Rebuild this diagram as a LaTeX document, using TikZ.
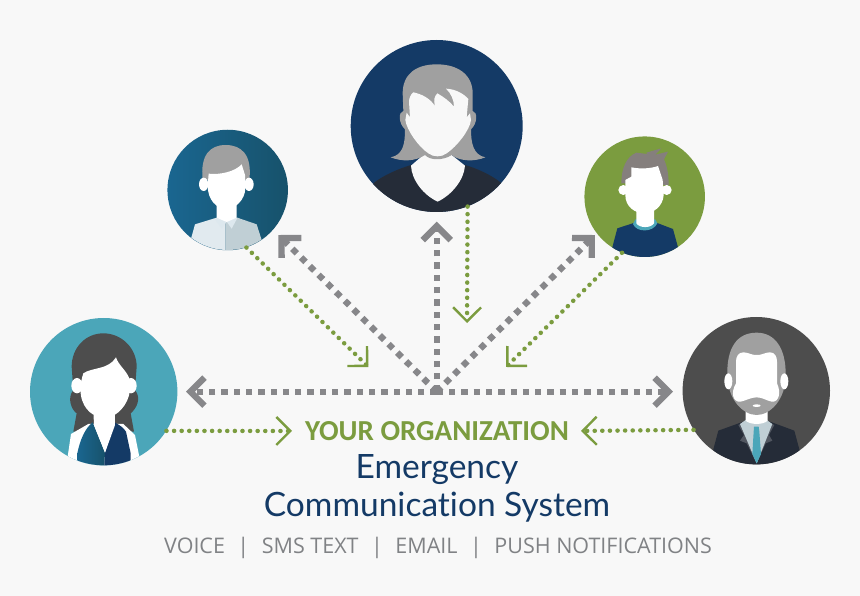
\documentclass[tikz,border=0pt]{standalone}
\usepackage{fontspec}
\setmainfont{Carlito}
\newfontfamily\orgfont{Carlito}
\newfontfamily\titlefont[Ligatures=NoCommon]{Lato}
\newfontfamily\chanfont{Open Sans}
\usetikzlibrary{arrows.meta}
\definecolor{bgc}{HTML}{F8F8F8}
\definecolor{navy}{HTML}{143A66}
\definecolor{ink}{HTML}{252C38}
\definecolor{hairg}{HTML}{A0A0A0}
\definecolor{hairb}{HTML}{857F7D}
\definecolor{darkg}{HTML}{4D4D4D}
\definecolor{teal}{HTML}{4BA6B9}
\definecolor{leaf}{HTML}{7B9C3F}
\definecolor{blueL}{HTML}{1A6690}
\definecolor{blueR}{HTML}{17526B}
\definecolor{arrowg}{HTML}{87878A}
\definecolor{textg}{HTML}{808285}
\tikzset{
  avatar/.style={circle,inner sep=0pt,draw=none,minimum size=#1},
  graylink/.style={arrowg,line width=6.3pt,dash pattern=on 6.3pt off 6pt,
    -{Straight Barb[length=14pt,width=28pt,line width=6.3pt,sep=4pt]}},
  greenlink/.style={leaf,line width=4.4pt,line cap=round,dash pattern=on 0.2pt off 7.4pt,
    -{Straight Barb[length=14pt,width=28pt,line width=2.4pt,sep=5pt]}},
  zoomT/.style={shift={(340,30)},scale=1/3},
  zoomB/.style={shift={(160,125)},scale=1/3},
  zoomG/.style={shift={(578,130)},scale=1/3},
  zoomL/.style={shift={(20,310)},scale=1/3},
  zoomR/.style={shift={(675,310)},scale=1/3},
}
\begin{document}
\begin{tikzpicture}[x=1pt,y=-1pt]
\useasboundingbox (0,0) rectangle (860,596);
\fill[bgc] (0,0) rectangle (860,596);

% avatar discs
\node[avatar=172pt,fill=navy] (avT) at (436.7,126) {};
\node[avatar=120.5pt,left color=blueL,right color=blueR] (avB) at (227.7,190) {};
\node[avatar=120.5pt,fill=leaf] (avG) at (644.7,196.7) {};
\node[avatar=147.4pt,fill=teal] (avL) at (103.7,391.7) {};
\node[avatar=147.4pt,fill=darkg] (avR) at (756.3,390.7) {};

% top figure
\begin{scope}[zoomT]
\clip (290,288) circle (258);
\fill[ink] (100,460) .. controls (130,435) and (180,415) .. (213,405) -- (375,405) .. controls (410,415) and (455,435) .. (485,460) -- (485,560) -- (100,560) -- cycle;
\fill[bgc] (213,407) .. controls (215,450) and (250,495) .. (293,515) .. controls (335,495) and (372,450) .. (375,407) -- (335,375) -- (250,375) -- cycle;
\fill[hairg] (290,103) .. controls (225,103) and (188,135) .. (188,190) -- (190,243) .. controls (175,245) and (175,280) .. (195,298) .. controls (195,340) and (190,375) .. (152,382) .. controls (185,395) and (225,395) .. (255,375) .. controls (270,392) and (310,392) .. (335,375) .. controls (360,395) and (405,395) .. (436,382) .. controls (400,375) and (393,340) .. (393,298) .. controls (413,280) and (413,245) .. (398,243) -- (398,190) .. controls (398,135) and (355,103) .. (290,103) -- cycle;
\fill[bgc] (220,187) .. controls (245,192) and (270,205) .. (285,228) .. controls (280,210) and (283,200) .. (292,190) .. controls (310,200) and (330,215) .. (342,230) .. controls (342,210) and (333,190) .. (318,176) .. controls (345,177) and (370,190) .. (385,207) -- (380,262) -- (390,250) -- (393,270) .. controls (390,300) and (350,350) .. (320,370) .. controls (305,382) and (280,382) .. (265,370) .. controls (235,350) and (200,300) .. (196,270) -- (200,248) -- (210,262) -- (207,215) .. controls (207,205) and (212,193) .. (220,187) -- cycle;
\end{scope}

% left blue figure
\begin{scope}[zoomB]
\clip (203,195) circle (180);
\fill[white!80!blueL!60!bgc] (92,345) -- (105,298) -- (170,278) -- (197,285) -- (197,390) -- (92,390) -- cycle;
\fill[blueR!25!bgc] (197,285) -- (232,278) -- (290,298) -- (305,345) -- (305,390) -- (197,390) -- cycle;
\fill[white!85!blueL] (165,283) -- (185,311) -- (200,290) -- (215,311) -- (232,279) -- (200,270) -- cycle;
\fill[white] (170,235) -- (170,278) -- (200,291) -- (230,278) -- (230,235) -- cycle;
\fill[hairg] (128,165) .. controls (120,90) and (150,60) .. (197,60) .. controls (245,60) and (277,90) .. (268,165) -- cycle;
\fill[white] (131,178) ellipse (14 and 20);
\fill[white] (267,178) ellipse (14 and 20);
\fill[white] (143,182) -- (146,146) .. controls (180,150) and (225,140) .. (245,118) -- (255,150) -- (256,190) .. controls (255,225) and (225,252) .. (200,252) .. controls (170,252) and (143,225) .. (143,182) -- cycle;
\end{scope}

% right green figure
\begin{scope}[zoomG]
\clip (200,200) circle (181);
\fill[navy] (103,352) -- (118,295) -- (170,278) -- (235,278) -- (285,297) -- (300,352) -- (300,390) -- (103,390) -- cycle;
\fill[teal] (165,282) .. controls (175,308) and (225,308) .. (238,280) -- (232,268) -- (172,268) -- cycle;
\fill[white] (175,235) -- (175,280) .. controls (185,295) and (218,295) .. (228,280) -- (228,235) -- cycle;
\fill[hairb] (130,160) .. controls (130,115) and (145,80) .. (175,68) -- (208,72) -- (205,68) -- (250,55) -- (232,74) -- (270,65) -- (258,88) .. controls (268,110) and (272,135) .. (272,165) -- cycle;
\fill[white] (136,180) circle (15);
\fill[white] (266,180) circle (15);
\fill[white] (142,150) -- (160,140) -- (160,112) .. controls (190,118) and (220,115) .. (240,108) -- (254,150) -- (257,195) .. controls (255,230) and (225,250) .. (200,250) .. controls (170,250) and (142,230) .. (142,195) -- cycle;
\end{scope}

% left teal figure
\begin{scope}[zoomL]
\clip (251,245) circle (221);
\fill[darkg] (250,70) .. controls (195,70) and (155,115) .. (155,170) -- (160,240) .. controls (140,265) and (155,300) .. (170,310) -- (160,365) -- (342,365) -- (332,310) .. controls (350,295) and (365,265) .. (345,240) -- (350,170) .. controls (350,115) and (305,70) .. (250,70) -- cycle;
\fill[white] (143,440) -- (153,372) -- (205,342) -- (310,342) -- (345,375) -- (358,440) -- (358,500) -- (143,500) -- cycle;
\shade[left color=blueL,right color=blueR] (172,430) .. controls (180,390) and (195,355) .. (218,337) -- (255,428) -- (252,480) -- (172,480) -- cycle;
\fill[navy] (255,428) -- (283,337) .. controls (300,345) and (312,355) .. (318,365) -- (332,430) -- (332,480) -- (252,480) -- cycle;
\fill[white] (220,300) -- (222,345) -- (255,428) -- (285,345) -- (285,300) -- cycle;
\fill[white] (171,227) ellipse (17 and 23);
\fill[white] (333,227) ellipse (17 and 23);
\fill[white] (190,190) .. controls (215,172) and (265,180) .. (288,142) .. controls (295,165) and (318,180) .. (328,205) .. controls (340,255) and (312,298) .. (285,314) -- (220,314) .. controls (192,298) and (168,255) .. (190,190) -- cycle;
\end{scope}

% right gray figure
\begin{scope}[zoomR]
\clip (244,242) circle (221);
\fill[ink] (115,418) -- (130,362) -- (205,335) -- (285,335) -- (358,362) -- (373,418) -- (373,480) -- (115,480) -- cycle;
\fill[ink!80!white] (190,345) -- (212,335) -- (245,460) -- (215,400) -- (195,392) -- (207,375) -- cycle;
\fill[ink!80!white] (298,345) -- (276,335) -- (245,460) -- (272,400) -- (292,392) -- (282,375) -- cycle;
\fill[blueR!25!bgc] (195,342) -- (212,330) -- (275,330) -- (292,342) -- (245,460) -- cycle;
\fill[white] (212,300) -- (212,332) .. controls (225,345) and (265,345) .. (278,332) -- (278,300) -- cycle;
\fill[teal] (237,350) -- (251,350) -- (253,365) -- (258,432) -- (245,460) -- (232,432) -- (236,365) -- cycle;
\fill[hairg] (245,68) .. controls (185,68) and (155,115) .. (157,195) .. controls (158,270) and (205,315) .. (245,315) .. controls (285,315) and (332,270) .. (332,195) .. controls (333,115) and (300,68) .. (245,68) -- cycle;
\fill[white] (160,214) ellipse (12 and 24);
\fill[white] (328,214) ellipse (12 and 24);
\fill[white] (205,127) .. controls (220,127) and (230,136) .. (245,135) .. controls (260,136) and (270,127) .. (285,127) .. controls (300,127) and (306,140) .. (306,155) -- (306,220) .. controls (320,250) and (310,278) .. (290,275) .. controls (275,272) and (262,262) .. (245,262) .. controls (228,262) and (212,272) .. (197,275) .. controls (175,278) and (165,250) .. (183,220) -- (183,155) .. controls (183,140) and (190,127) .. (205,127) -- cycle;
\fill[white] (245,287) ellipse (12 and 4);
\end{scope}

% hub and its end points (tips sit sep short of these)
\coordinate (hub) at (436.7,391.7);
\coordinate (tipLeft) at (182,391.7);
\coordinate (tipRight) at (677,391.7);
\coordinate (tipUp) at (436.7,217.7);
\coordinate (tipUL) at (275.5,232.2);
\coordinate (tipUR) at (597.8,232.2);
\coordinate (inUL) at (372,370.5);
\coordinate (inUR) at (502.5,370.5);
\coordinate (inTop) at (467,328);
\coordinate (inLeft) at (297,431);
\coordinate (inRight) at (576,431);

\draw[graylink] (hub) -- (tipLeft);
\draw[graylink] (hub) -- (tipRight);
\draw[graylink] (hub) -- (tipUp);
\draw[graylink] (hub) -- (tipUL);
\draw[graylink] (hub) -- (tipUR);
\fill[arrowg] (430.7,394.9) .. controls (430.7,388) and (433,385.5) .. (436.7,385.5) .. controls (440.4,385.5) and (442.7,388) .. (442.7,394.9) -- cycle;

\draw[greenlink] (avB.-72) -- (inUL);
\draw[greenlink] (avG.248) -- (inUR);
\draw[greenlink] (avT.-69.6) -- (inTop);
\draw[greenlink] (avL.-32) -- (inLeft);
\draw[greenlink] (avR.212) -- (inRight);

% texts
\node[inner sep=0pt,text=leaf,font=\orgfont\bfseries\fontsize{29}{32}\selectfont] (org) at (437,431) {YOUR ORGANIZATION};
\node[inner sep=0pt,text=navy,font=\titlefont\fontsize{33.5}{38}\selectfont] (ttl) at (437,469.5) {Emergency};
\node[inner sep=0pt,text=navy,font=\titlefont\fontsize{33.5}{38}\selectfont] (sys) at (437,507) {Communication System};
\node[inner sep=0pt,text=textg,font=\chanfont\fontsize{21.5}{24}\selectfont] (chan) at (438,547.5) {VOICE\hspace{12.5pt}|\hspace{12.5pt}SMS TEXT\hspace{12.5pt}|\hspace{12.5pt}EMAIL\hspace{12.5pt}|\hspace{12.5pt}PUSH NOTIFICATIONS};
\end{tikzpicture}
\end{document}
